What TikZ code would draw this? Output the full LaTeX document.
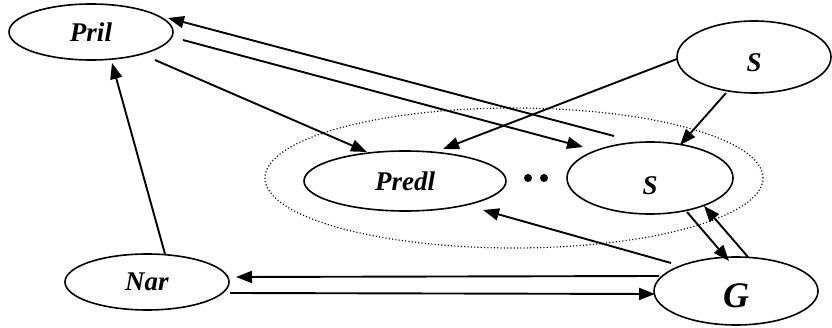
\documentclass[tikz,border=0pt]{standalone}
\usepackage{fontspec}
\setmainfont{Liberation Serif}
\usetikzlibrary{shapes.geometric,arrows.meta}
\begin{document}
\begin{tikzpicture}[x=1pt,y=-1pt,
  oval/.style={draw,ellipse,line width=1.6pt,inner sep=0pt,
    font=\fontsize{27}{27}\selectfont\bfseries\itshape},
  link/.style={line width=1.9pt,-{Triangle[length=16pt,width=12pt]}},
  pt/.style={circle,fill,inner sep=0pt,minimum size=8pt},
  group/.style={draw,ellipse,line width=1.2pt,dash pattern=on 1.1pt off 2.2pt,inner sep=0pt}]
\path[use as bounding box] (0,0) rectangle (832,328);

% dotted boundary around the middle row
\node[group,minimum width=498pt,minimum height=140pt] (grp) at (514,178) {};

% states
\node[oval,minimum width=164pt,minimum height=56pt] (pril) at (91,32) {Pril};
\node[oval,minimum width=202pt,minimum height=60pt] (predl) at (405,181) {Predl};
\node[oval,minimum width=166pt,minimum height=72pt] (smid) at (650,178)
  {\raisebox{-8pt}[\height][\depth]{S}};
\node[oval,minimum width=154pt,minimum height=72pt] (stop) at (754,57)
  {\raisebox{-6pt}[\height][\depth]{S}};
\node[oval,minimum width=164pt,minimum height=68pt,
  font=\fontsize{36}{36}\selectfont\bfseries\itshape] (g) at (736,291)
  {\raisebox{-5pt}[\height][\depth]{G}};
\node[oval,minimum width=164pt,minimum height=56pt] (nar) at (147,282) {Nar};

% ellipsis between the middle states
\node[pt] (dotA) at (528,178) {};
\node[pt] (dotB) at (544,178) {};

% transitions
\draw[link] ([shift={(-36,-42)}]smid.center) -- ([shift={(77,-14)}]pril.center);
\draw[link] ([shift={(92,8)}]pril.center) -- ([shift={(-67,-31)}]smid.center);
\draw[link] ([shift={(64,28)}]pril.center) -- ([shift={(-38,-29)}]predl.center);
\draw[link] ([shift={(-77,2)}]stop.center) -- ([shift={(38,-32)}]predl.center);
\draw[link] ([shift={(-28,36)}]stop.center) -- ([shift={(30,-33)}]smid.center);
\draw[link] ([shift={(18,-28)}]nar.center) -- ([shift={(21,31)}]pril.center);
\draw[link] ([shift={(37,34)}]smid.center) -- ([shift={(-7,-30)}]g.center);
\draw[link] ([shift={(12,-34)}]g.center) -- ([shift={(54,28)}]smid.center);
\draw[link] ([shift={(-65,-28)}]g.center) -- ([shift={(78,29)}]predl.center);
\draw[link] ([shift={(-77,-15)}]g.center) -- ([shift={(89,-5)}]nar.center);
\draw[link] ([shift={(83,11)}]nar.center) -- ([shift={(-81,3)}]g.center);
\end{tikzpicture}
\end{document}
